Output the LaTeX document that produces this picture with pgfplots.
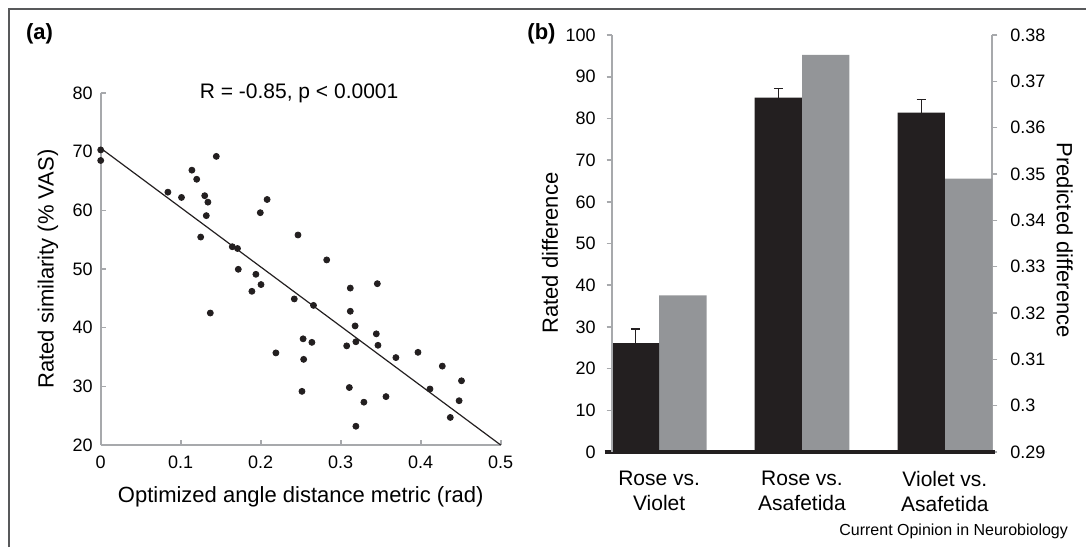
\documentclass[border=0pt]{standalone}
\usepackage{fontspec}
\setmainfont{Liberation Sans}
\usepackage{pgfplots}
\pgfplotsset{compat=1.18}
\definecolor{barblack}{HTML}{231F20}
\definecolor{bargray}{HTML}{939598}
\definecolor{axisgray}{HTML}{A7A9AC}
\definecolor{framegray}{HTML}{58595B}

\pgfplotstableread{
x y
0.000 70.3
0.000 68.5
0.084 63.1
0.101 62.2
0.114 66.85
0.120 65.3
0.1445 69.2
0.130 62.5
0.134 61.4
0.132 59.1
0.125 55.45
0.1995 59.6
0.208 61.85
0.1645 53.8
0.171 53.5
0.172 49.95
0.194 49.1
0.137 42.5
0.2004 47.35
0.189 46.2
0.2466 55.8
0.2825 51.55
0.242 44.9
0.266 43.8
0.312 46.75
0.3458 47.5
0.312 42.8
0.318 40.3
0.3445 38.95
0.3466 37.0
0.319 37.6
0.3075 36.9
0.253 38.1
0.264 37.5
0.219 35.7
0.2537 34.6
0.2516 29.15
0.3108 29.8
0.329 27.3
0.319 23.2
0.3566 28.25
0.369 34.9
0.3966 35.8
0.427 33.45
0.451 30.95
0.4116 29.55
0.448 27.55
0.437 24.7
}\scatterdata

\begin{document}
\begin{tikzpicture}
\path[use as bounding box] (0,0) rectangle (543pt,-273.5pt);
\draw[framegray, line width=1pt] (4.5pt,-273.5pt) -- (4.5pt,-4.5pt) -- (543pt,-4.5pt);
\node[font=\bfseries\fontsize{11}{13}\selectfont] at (19.75pt,-17pt) {(a)};
\node[font=\bfseries\fontsize{11}{13}\selectfont] at (270.75pt,-17pt) {(b)};
\node[anchor=east, font=\fontsize{8}{10}\selectfont] at (537.5pt,-265.5pt) {Current Opinion in Neurobiology};

% ---------- panel (a) ----------
\begin{axis}[
  at={(50.35pt,-222.5pt)}, anchor=south west, scale only axis,
  width=200pt, height=176pt,
  xmin=0, xmax=0.5, ymin=20, ymax=80,
  xtick={0,0.1,0.2,0.3,0.4,0.5}, ytick={20,30,40,50,60,70,80},
  axis x line*=bottom, axis y line*=left,
  axis line style={axisgray, line width=1pt},
  tick style={axisgray, line width=0.8pt}, tick align=inside, major tick length=2.5pt,
  ticklabel style={font=\fontsize{9}{11}\selectfont},
  xticklabel style={yshift=-2pt},
  yticklabel style={xshift=-0.5pt},
  /pgf/number format/assume math mode=true,
  clip=false,
  xlabel={Optimized angle distance metric (rad)},
  ylabel={Rated similarity (\% VAS)},
  every axis x label/.style={at={(axis description cs:0.5,-0.148)}, anchor=center, font=\fontsize{11}{13}\selectfont},
  every axis y label/.style={at={(axis description cs:-0.132,0.5)}, anchor=center, rotate=90, font=\fontsize{11}{13}\selectfont},
]
\addplot[only marks, mark=*, mark size=1.5pt, barblack] table[x=x, y=y] {\scatterdata};
\addplot[barblack, line width=0.6pt] coordinates {(0,70.6) (0.5,20.0)};
\node[font=\fontsize{10.5}{12}\selectfont] at (axis description cs:0.496,1.0) {R = -0.85, p < 0.0001};
\end{axis}

% ---------- panel (b), right axis (gray bars) ----------
\begin{axis}[
  at={(305.85pt,-226pt)}, anchor=south west, scale only axis,
  width=190.3pt, height=208.5pt,
  xmin=-0.332, xmax=2.332, ymin=0.29, ymax=0.38,
  ytick={0.29,0.3,0.31,0.32,0.33,0.34,0.35,0.36,0.37,0.38},
  axis x line=none, axis y line*=right,
  axis line style={axisgray, line width=1pt},
  tick style={axisgray, line width=0.8pt}, tick align=outside, major tick length=2.5pt,
  ticklabel style={font=\fontsize{9}{11}\selectfont},
  yticklabel style={/pgf/number format/fixed, /pgf/number format/precision=2, xshift=3pt},
  /pgf/number format/assume math mode=true,
  ylabel={Predicted difference},
  every axis y label/.style={at={(axis description cs:1.19,0.508)}, anchor=center, rotate=-90, font=\fontsize{11}{13}\selectfont},
]
\addplot[ybar, bar width=23.65pt, bar shift=0pt, fill=bargray, draw=none] coordinates {(0.166,0.3238) (1.166,0.3757) (2.166,0.349)};
\end{axis}

% ---------- panel (b), left axis (black bars) ----------
\begin{axis}[
  at={(305.85pt,-226pt)}, anchor=south west, scale only axis,
  width=190.3pt, height=208.5pt,
  xmin=-0.332, xmax=2.332, ymin=0, ymax=100,
  ytick={0,10,20,30,40,50,60,70,80,90,100}, xtick={0,1,2},
  xticklabels={{Rose vs.\\Violet},{Rose vs.\\Asafetida},{Violet vs.\\Asafetida}},
  xticklabel style={align=center, font=\fontsize{10.5}{12.5}\selectfont, yshift=-3.5pt},
  axis y line*=left, axis x line*=bottom,
  y axis line style={axisgray, line width=1pt},
  x axis line style={barblack, line width=2pt, shorten <=-3.5pt, shorten >=-1.5pt},
  xtick style={draw=none}, ytick style={axisgray, line width=0.8pt},
  tick align=outside, major tick length=2.5pt,
  yticklabel style={font=\fontsize{9}{11}\selectfont, xshift=-2pt},
  /pgf/number format/assume math mode=true,
  axis on top,
  ylabel={Rated difference},
  every axis y label/.style={at={(axis description cs:-0.162,0.477)}, anchor=center, rotate=90, font=\fontsize{11}{13}\selectfont},
]
\addplot[ybar, bar width=23.65pt, bar shift=0pt, fill=barblack, draw=none,
  error bars/.cd, y dir=plus, y explicit,
  error bar style={barblack, line width=0.6pt},
  error mark options={rotate=90, barblack, mark size=2.25pt, line width=0.6pt}]
  coordinates {(-0.166,26.1) +- (0,3.4) (0.834,85.0) +- (0,2.2) (1.834,81.4) +- (0,3.2)};
\end{axis}
\end{tikzpicture}
\end{document}
